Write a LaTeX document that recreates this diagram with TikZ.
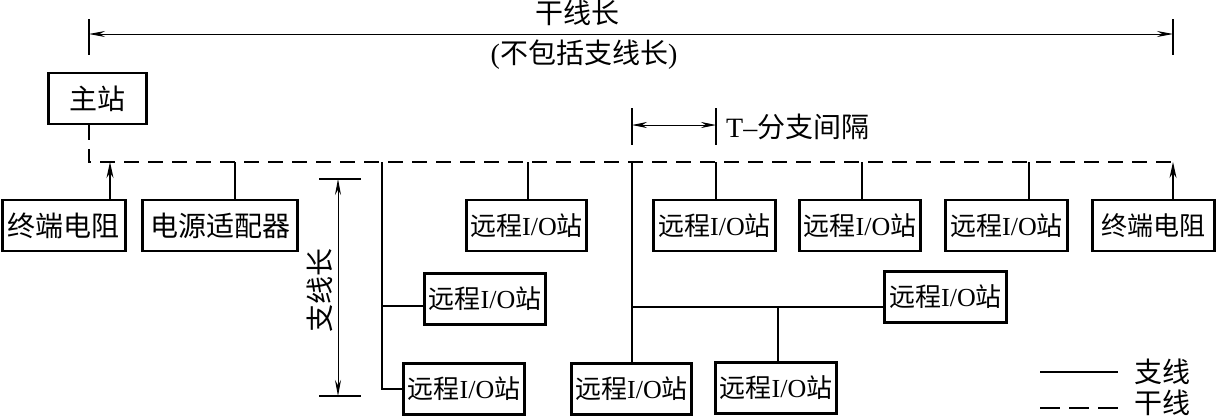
\documentclass[tikz,border=0pt]{standalone}
\usepackage{fontspec}
\setmainfont{Liberation Serif}
\newfontfamily\cjk{Noto Sans CJK SC}
\usetikzlibrary{arrows.meta}
\newcommand\zh[1]{{\cjk #1}}
\newcommand\rio{\zh{远程}I/O\zh{站}}
\begin{document}
\begin{tikzpicture}[x=1pt,y=-1pt,
  box/.style={draw, line width=2.8pt, minimum height=51pt, inner sep=0pt, font=\fontsize{26}{26}\selectfont},
  bigbox/.style={box, font=\fontsize{28}{28}\selectfont},
  branch/.style={line width=1.3pt},
  trunk/.style={line width=1.3pt, dash pattern=on 15pt off 9pt},
  dimline/.style={line width=0.9pt},
  tickline/.style={line width=1.5pt},
  arr/.style={-{Stealth[length=16pt,width=7pt]}},
  bigtext/.style={font=\fontsize{28}{28}\selectfont, inner sep=0pt}
]
\fill[white] (0,0) rectangle (1218,418);
\useasboundingbox (0,0) rectangle (1218,418);

% top dimension (trunk length)
\coordinate (dL) at (89,34);
\coordinate (dR) at (1173,34);
\draw[tickline] (89,19) coordinate (dLt) -- (89,55) coordinate (dLb);
\draw[tickline] (1173,19) coordinate (dRt) -- (1173,55) coordinate (dRb);
\draw[dimline,{Stealth[length=16pt,width=6pt]}-{Stealth[length=16pt,width=6pt]}] (dL) -- (dR);
\node[bigtext] (tlen) at (577,13) {\zh{干线长}};
\node[bigtext] (tlen2) at (584,55) {(\zh{不包括支线长})};

% master station
\node[bigbox, minimum width=98pt] (M) at (97.5,98.5) {\zh{主站}};

% trunk line
\coordinate (tL) at (89,162);
\coordinate (tR) at (1173,162);
\draw[trunk] (tL |- M.south) -- (tL) -- (tR);

% top row boxes
\node[bigbox, minimum width=123pt] (TL) at (64,225.5) {\zh{终端电阻}};
\node[bigbox, minimum width=155pt] (PS) at (220,225.5) {\zh{电源适配器}};
\node[box, minimum width=120pt] (A) at (526.5,225.5) {\rio};
\node[box, minimum width=122pt] (E) at (714.5,225.5) {\rio};
\node[box, minimum width=121pt] (F) at (860,225.5) {\rio};
\node[box, minimum width=122pt] (G) at (1006.5,225.5) {\rio};
\node[box, minimum width=122pt] (TR) at (1153.5,225.5) {\zh{终端电阻}};

% lower boxes
\node[box, minimum width=121pt] (B) at (485,299) {\rio};
\node[box, minimum width=122pt] (H) at (945.5,297) {\rio};
\node[box, minimum width=121pt] (C) at (464,389) {\rio};
\node[box, minimum width=120pt] (D) at (631.5,389) {\rio};
\node[box, minimum width=121pt] (I) at (776,388) {\rio};

% terminator arrows
\coordinate (aL) at (110,162);
\coordinate (aR) at (1173,162);
\draw[branch,arr] (aL |- TL.north) -- (aL);
\draw[branch,arr] (aR |- TR.north) -- (aR);

% drops from trunk
\coordinate (cPS) at (235,162);
\coordinate (cA) at (528,162);
\coordinate (cE) at (716,162);
\coordinate (cF) at (862,162);
\coordinate (cG) at (1029,162);
\draw[branch] (cPS) -- (cPS |- PS.north);
\draw[branch] (cA) -- (cA |- A.north);
\draw[branch] (cE) -- (cE |- E.north);
\draw[branch] (cF) -- (cF |- F.north);
\draw[branch] (cG) -- (cG |- G.north);

% branch 1
\coordinate (b1) at (382,162);
\coordinate (b1m) at (382,306);
\draw[branch] (b1) -- (b1 |- C.west) -- (C.west);
\draw[branch] (b1m) -- (b1m -| B.west);

% branch 2
\coordinate (b2) at (632,162);
\coordinate (b2m) at (632,307);
\coordinate (b2j) at (778,307);
\draw[branch] (b2) -- (b2 |- D.north);
\draw[branch] (b2m) -- (b2m -| H.west);
\draw[branch] (b2j) -- (b2j |- I.north);

% branch length dimension
\coordinate (sT) at (338,179);
\coordinate (sB) at (338,396);
\draw[tickline] (319,179) coordinate (sTl) -- (361,179) coordinate (sTr);
\draw[tickline] (319,396) coordinate (sBl) -- (361,396) coordinate (sBr);
\draw[dimline,{Stealth[length=16pt,width=6pt]}-{Stealth[length=16pt,width=6pt]}] (sT) -- (sB);
\node[bigtext, rotate=90] (slen) at (320,290) {\zh{支线长}};

% T-branch spacing
\draw[tickline] (632,108) coordinate (gLt) -- (632,145) coordinate (gLb);
\draw[tickline] (716,108) coordinate (gRt) -- (716,145) coordinate (gRb);
\coordinate (gL) at (632,125);
\coordinate (gR) at (716,125);
\draw[dimline,{Stealth[length=15pt,width=6pt]}-{Stealth[length=15pt,width=6pt]}] (gL) -- (gR);
\node[bigtext, anchor=west] (tsp) at (726,127) {T–\zh{分支间隔}};

% legend
\coordinate (l1a) at (1040,372);
\coordinate (l1b) at (1118,372);
\coordinate (l2a) at (1040,408);
\coordinate (l2b) at (1118,408);
\draw[branch] (l1a) -- (l1b);
\draw[line width=1.3pt, dash pattern=on 20pt off 9pt] (l2a) -- (l2b);
\node[bigtext, anchor=west] (lg1) at (1134,372) {\zh{支线}};
\node[bigtext, anchor=west] (lg2) at (1134,403) {\zh{干线}};
\end{tikzpicture}
\end{document}
